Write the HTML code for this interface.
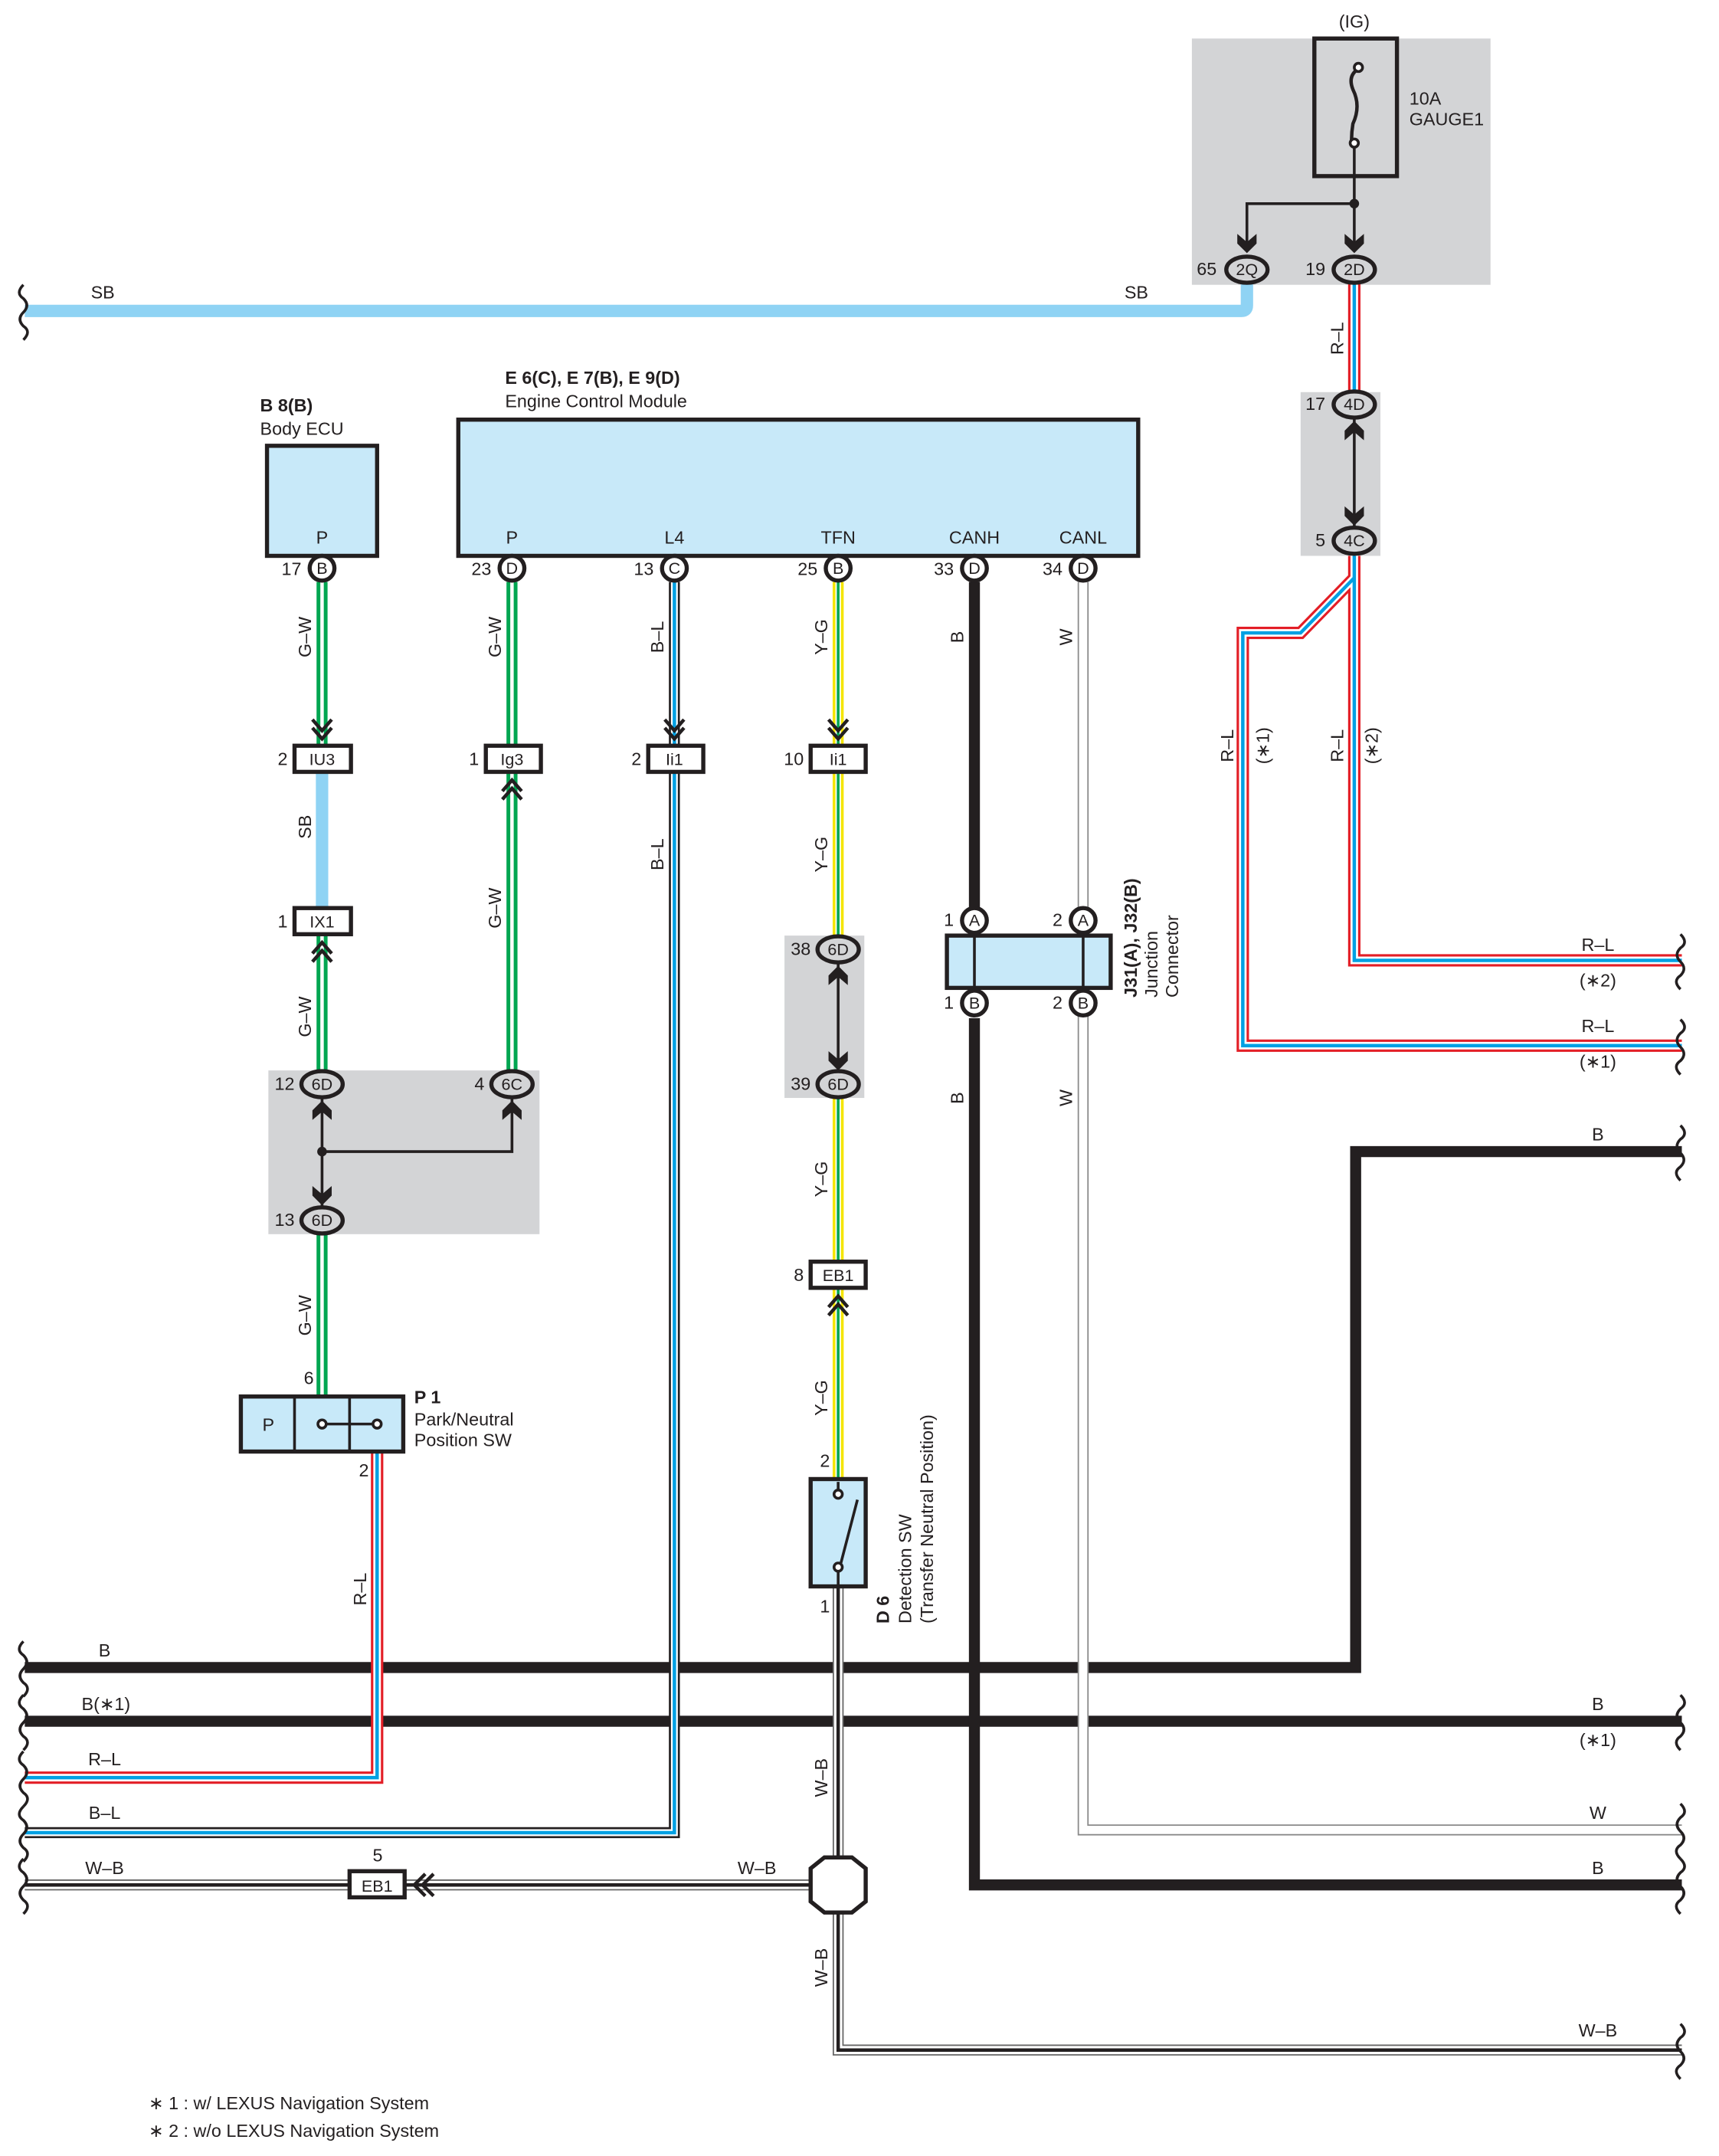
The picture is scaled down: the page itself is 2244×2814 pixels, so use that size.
<!DOCTYPE html>
<html><head><meta charset="utf-8"><style>
html,body{margin:0;padding:0;background:#fff}
svg{display:block}
text{font-family:"Liberation Sans",sans-serif;fill:#231f20}
</style></head><body>
<svg width="2244" height="2814" viewBox="0 0 1249 1567" preserveAspectRatio="none" xmlns="http://www.w3.org/2000/svg">
<defs>
<g id="dn"><path d="M-7,-11 L0,-3 L7,-11 M-7,-5 L0,3 L7,-5" fill="none" stroke="#231f20" stroke-width="2.5"/></g>
<g id="up"><path d="M-7,11 L0,3 L7,11 M-7,5 L0,-3 L7,5" fill="none" stroke="#231f20" stroke-width="2.5"/></g>
<g id="sdn"><path d="M-7,-8 L0,-2 L7,-8 L7,-1 L0,6 L-7,-1 Z" fill="#231f20"/></g>
<g id="sup"><path d="M-7,8 L0,2 L7,8 L7,1 L0,-6 L-7,1 Z" fill="#231f20"/></g>
</defs>
<g fill="none" stroke-linejoin="miter">
<rect x="866" y="28" width="217" height="179" fill="#d3d4d6" stroke="none"/>
<rect x="945" y="285" width="58" height="119" fill="#d3d4d6" stroke="none"/>
<rect x="195" y="778" width="197" height="119" fill="#d3d4d6" stroke="none"/>
<rect x="570" y="680" width="58" height="118" fill="#d3d4d6" stroke="none"/>

<path d="M18,226 H902 Q906,226 906,222 V205" stroke="#8fd3f4" stroke-width="9"/>
<path d="M18,1212 H985 V837 H1222" stroke="#231f20" stroke-width="8"/>
<path d="M18,1251 H1222" stroke="#231f20" stroke-width="8"/>
<path d="M708,423 V680 M708,740 V1370 H1222" stroke="#231f20" stroke-width="8"/>
<path d="M787,423 V1330 H1222" stroke="#8a8a8a" stroke-width="8"/>
<path d="M787,423 V1330 H1222" stroke="#fff" stroke-width="6"/>
<path d="M274,1055 V1292 H18" stroke="#e31e26" stroke-width="9"/>
<path d="M984,206 V285 M984,404 V698 H1222 M984,420 L945,460 H903 V760 H1222" stroke="#e31e26" stroke-width="9"/>
<path d="M274,1055 V1292 H18" stroke="#fff" stroke-width="5.5"/>
<path d="M984,206 V285 M984,404 V698 H1222 M984,420 L945,460 H903 V760 H1222" stroke="#fff" stroke-width="5.5"/>
<path d="M274,1055 V1292 H18" stroke="#00a0e3" stroke-width="2.5"/>
<path d="M984,206 V285 M984,404 V698 H1222 M984,420 L945,460 H903 V760 H1222" stroke="#00a0e3" stroke-width="2.5"/>
<path d="M490,423 V1332 H18" stroke="#231f20" stroke-width="8"/>
<path d="M490,423 V1332 H18" stroke="#fff" stroke-width="5"/>
<path d="M490,423 V1332 H18" stroke="#00a0e3" stroke-width="2.5"/>
<path d="M234,423 V542 M234,679 V778 M234,897 V1015 M372,423 V542 M372,561 V778" stroke="#00a651" stroke-width="8"/>
<path d="M234,423 V542 M234,679 V778 M234,897 V1015 M372,423 V542 M372,561 V778" stroke="#fff" stroke-width="2.5"/>
<path d="M234,561 V660" stroke="#8fd3f4" stroke-width="9"/>
<path d="M609,423 V680 M609,798 V1075" stroke="#f5e500" stroke-width="8"/>
<path d="M609,423 V680 M609,798 V1075" stroke="#fff" stroke-width="4"/>
<path d="M609,423 V680 M609,798 V1075" stroke="#00a651" stroke-width="2"/>
<path d="M609,1153 V1490 H1222 M609,1370 H18" stroke="#666" stroke-width="8"/>
<path d="M609,1153 V1490 H1222 M609,1370 H18" stroke="#fff" stroke-width="6"/>
<path d="M609,1153 V1490 H1222 M609,1370 H18" stroke="#231f20" stroke-width="2.5"/>

<g stroke="#231f20" stroke-width="2">
<path d="M17,207 q-6,6 0,10 q5,5 0,10 q-5,5 0,10 q6,4 0,10"/>
<path d="M17,1193 q-6,6 0,10 q5,5 0,10 q-5,5 0,10 q6,4 0,10"/>
<path d="M17,1232 q-6,6 0,10 q5,5 0,10 q-5,5 0,10 q6,4 0,10"/>
<path d="M17,1273 q-6,6 0,10 q5,5 0,10 q-5,5 0,10 q6,4 0,10"/>
<path d="M17,1313 q-6,6 0,10 q5,5 0,10 q-5,5 0,10 q6,4 0,10"/>
<path d="M17,1351 q-6,6 0,10 q5,5 0,10 q-5,5 0,10 q6,4 0,10"/>
<path d="M1221,679 q6,6 0,10 q-5,5 0,10 q5,5 0,10 q-6,4 0,10"/>
<path d="M1221,741 q6,6 0,10 q-5,5 0,10 q5,5 0,10 q-6,4 0,10"/>
<path d="M1221,818 q6,6 0,10 q-5,5 0,10 q5,5 0,10 q-6,4 0,10"/>
<path d="M1221,1232 q6,6 0,10 q-5,5 0,10 q5,5 0,10 q-6,4 0,10"/>
<path d="M1221,1311 q6,6 0,10 q-5,5 0,10 q5,5 0,10 q-6,4 0,10"/>
<path d="M1221,1351 q6,6 0,10 q-5,5 0,10 q5,5 0,10 q-6,4 0,10"/>
<path d="M1221,1471 q6,6 0,10 q-5,5 0,10 q5,5 0,10 q-6,4 0,10"/>
</g>

<rect x="955" y="28" width="60" height="100" stroke="#231f20" stroke-width="3"/>
<path d="M987,50 q-8,5 -4,15 q6,12 0,25 q-1,6 -1,12" stroke="#231f20" stroke-width="2.5"/>
<circle cx="987" cy="49" r="3" fill="#fff" stroke="#231f20" stroke-width="2"/>
<circle cx="984" cy="104" r="3" fill="#fff" stroke="#231f20" stroke-width="2"/>
<path d="M984,107 V182 M984,148 H906 V182 M984,304 V383 M234,798 V877 M234,837 H372 V798 M609,700 V778" stroke="#231f20" stroke-width="2"/>
<circle cx="984" cy="148" r="3.5" fill="#231f20"/>
<circle cx="234" cy="837" r="3.5" fill="#231f20"/>
<use href="#sdn" x="906" y="178"/><use href="#sdn" x="984" y="178"/>
<use href="#sup" x="984" y="312"/><use href="#sdn" x="984" y="376"/>
<use href="#sup" x="234" y="806"/><use href="#sdn" x="234" y="870"/><use href="#sup" x="372" y="806"/>
<use href="#sup" x="609" y="708"/><use href="#sdn" x="609" y="772"/>

<g stroke="#231f20" stroke-width="3" fill="#d3d4d6">
<ellipse cx="906" cy="196" rx="15" ry="9.5"/><ellipse cx="984" cy="196" rx="15" ry="9.5"/>
<ellipse cx="984" cy="294" rx="15" ry="9.5"/><ellipse cx="984" cy="393" rx="15" ry="9.5"/>
<ellipse cx="234" cy="788" rx="15" ry="9.5"/><ellipse cx="372" cy="788" rx="15" ry="9.5"/><ellipse cx="234" cy="887" rx="15" ry="9.5"/>
<ellipse cx="609" cy="690" rx="15" ry="9.5"/><ellipse cx="609" cy="788" rx="15" ry="9.5"/>
</g>
<rect x="194" y="324" width="80" height="80" fill="#c8e9f9" stroke="#231f20" stroke-width="3"/>
<rect x="333" y="305" width="494" height="99" fill="#c8e9f9" stroke="#231f20" stroke-width="3"/>
<rect x="688" y="680" width="119" height="38" fill="#c8e9f9" stroke="#231f20" stroke-width="3"/>
<path d="M708,680 V718 M787,680 V718" stroke="#231f20" stroke-width="2"/>
<rect x="175" y="1015" width="118" height="40" fill="#c8e9f9" stroke="#231f20" stroke-width="3"/>
<path d="M214,1015 V1055 M254,1015 V1055 M234,1035 H274" stroke="#231f20" stroke-width="2"/>
<circle cx="234" cy="1035" r="3" fill="#fff" stroke="#231f20" stroke-width="2"/>
<circle cx="274" cy="1035" r="3" fill="#fff" stroke="#231f20" stroke-width="2"/>
<rect x="589" y="1075" width="40" height="78" fill="#c8e9f9" stroke="#231f20" stroke-width="3"/>
<path d="M609,1077 V1083 M623,1090 L611,1136 M609,1142 V1153" stroke="#231f20" stroke-width="2"/>
<circle cx="609" cy="1086" r="3" fill="#fff" stroke="#231f20" stroke-width="2"/>
<circle cx="609" cy="1139" r="3" fill="#fff" stroke="#231f20" stroke-width="2"/>
<g stroke="#231f20" stroke-width="3" fill="#fff">
<circle cx="234" cy="413" r="9"/><circle cx="372" cy="413" r="9"/><circle cx="490" cy="413" r="9"/>
<circle cx="609" cy="413" r="9"/><circle cx="708" cy="413" r="9"/><circle cx="787" cy="413" r="9"/>
<circle cx="708" cy="669" r="9"/><circle cx="787" cy="669" r="9"/><circle cx="708" cy="729" r="9"/><circle cx="787" cy="729" r="9"/>
</g>
<g stroke="#231f20" stroke-width="3" fill="#fff">
<rect x="214" y="542" width="41" height="19"/><rect x="353" y="542" width="40" height="19"/>
<rect x="471" y="542" width="40" height="19"/><rect x="589" y="542" width="40" height="19"/>
<rect x="214" y="660" width="41" height="19"/><rect x="589" y="917" width="40" height="19"/>
<rect x="254" y="1360" width="40" height="19"/>
<path d="M589,1358 L599,1350 H619 L629,1358 V1382 L619,1390 H599 L589,1382 Z"/>
</g>
<use href="#dn" x="234" y="534"/><use href="#dn" x="490" y="534"/><use href="#dn" x="609" y="534"/>
<use href="#up" x="372" y="570"/><use href="#up" x="234" y="688"/><use href="#up" x="609" y="945"/>
<path d="M309,1362 L301,1370 L309,1378 M315,1362 L307,1370 L315,1378" stroke="#231f20" stroke-width="2.5"/>
</g>

<g font-size="13">
<text x="984" y="20" text-anchor="middle">(IG)</text>
<text x="1024" y="76">10A</text><text x="1024" y="91">GAUGE1</text>
<text x="906" y="200" text-anchor="middle" font-size="12">2Q</text><text x="984" y="200" text-anchor="middle" font-size="12">2D</text>
<text x="884" y="200" text-anchor="end">65</text><text x="963" y="200" text-anchor="end">19</text>
<text x="984" y="298" text-anchor="middle" font-size="12">4D</text><text x="984" y="397" text-anchor="middle" font-size="12">4C</text>
<text x="963" y="298" text-anchor="end">17</text><text x="963" y="397" text-anchor="end">5</text>
<text x="66" y="217">SB</text><text x="817" y="217">SB</text>
<text x="189" y="299" font-weight="bold">B 8(B)</text><text x="189" y="316">Body ECU</text>
<text x="367" y="279" font-weight="bold">E 6(C), E 7(B), E 9(D)</text><text x="367" y="296">Engine Control Module</text>
<text x="234" y="395" text-anchor="middle">P</text><text x="372" y="395" text-anchor="middle">P</text>
<text x="490" y="395" text-anchor="middle">L4</text><text x="609" y="395" text-anchor="middle">TFN</text>
<text x="708" y="395" text-anchor="middle">CANH</text><text x="787" y="395" text-anchor="middle">CANL</text>
<g font-size="12" text-anchor="middle">
<text x="234" y="417">B</text><text x="372" y="417">D</text><text x="490" y="417">C</text><text x="609" y="417">B</text><text x="708" y="417">D</text><text x="787" y="417">D</text>
<text x="708" y="673">A</text><text x="787" y="673">A</text><text x="708" y="733">B</text><text x="787" y="733">B</text>
<text x="234" y="556">IU3</text><text x="372" y="556">Ig3</text><text x="490" y="556">Ii1</text><text x="609" y="556">Ii1</text>
<text x="234" y="674">IX1</text><text x="609" y="931">EB1</text><text x="274" y="1375">EB1</text>
<text x="234" y="792">6D</text><text x="372" y="792">6C</text><text x="234" y="891">6D</text>
<text x="609" y="694">6D</text><text x="609" y="792">6D</text>
</g>
<g text-anchor="end">
<text x="219" y="418">17</text><text x="357" y="418">23</text><text x="475" y="418">13</text><text x="594" y="418">25</text><text x="693" y="418">33</text><text x="772" y="418">34</text>
<text x="209" y="556">2</text><text x="348" y="556">1</text><text x="466" y="556">2</text><text x="584" y="556">10</text>
<text x="209" y="674">1</text><text x="584" y="931">8</text>
<text x="214" y="792">12</text><text x="352" y="792">4</text><text x="214" y="891">13</text>
<text x="589" y="694">38</text><text x="589" y="792">39</text>
<text x="693" y="673">1</text><text x="772" y="673">2</text><text x="693" y="733">1</text><text x="772" y="733">2</text>
<text x="228" y="1006">6</text><text x="268" y="1073">2</text><text x="603" y="1066">2</text><text x="603" y="1172">1</text>
<text x="278" y="1353">5</text>
</g>
<text x="195" y="1040" text-anchor="middle">P</text>
<text x="301" y="1020" font-weight="bold">P 1</text><text x="301" y="1036">Park/Neutral</text><text x="301" y="1051">Position SW</text>
<g>
<text transform="translate(226,463) rotate(-90)" text-anchor="middle">G–W</text>
<text transform="translate(364,463) rotate(-90)" text-anchor="middle">G–W</text>
<text transform="translate(482,463) rotate(-90)" text-anchor="middle">B–L</text>
<text transform="translate(601,463) rotate(-90)" text-anchor="middle">Y–G</text>
<text transform="translate(700,463) rotate(-90)" text-anchor="middle">B</text>
<text transform="translate(779,463) rotate(-90)" text-anchor="middle">W</text>
<text transform="translate(226,601) rotate(-90)" text-anchor="middle">SB</text>
<text transform="translate(482,621) rotate(-90)" text-anchor="middle">B–L</text>
<text transform="translate(601,621) rotate(-90)" text-anchor="middle">Y–G</text>
<text transform="translate(364,660) rotate(-90)" text-anchor="middle">G–W</text>
<text transform="translate(226,739) rotate(-90)" text-anchor="middle">G–W</text>
<text transform="translate(700,798) rotate(-90)" text-anchor="middle">B</text>
<text transform="translate(779,798) rotate(-90)" text-anchor="middle">W</text>
<text transform="translate(601,857) rotate(-90)" text-anchor="middle">Y–G</text>
<text transform="translate(226,956) rotate(-90)" text-anchor="middle">G–W</text>
<text transform="translate(601,1016) rotate(-90)" text-anchor="middle">Y–G</text>
<text transform="translate(266,1155) rotate(-90)" text-anchor="middle">R–L</text>
<text transform="translate(601,1292) rotate(-90)" text-anchor="middle">W–B</text>
<text transform="translate(601,1430) rotate(-90)" text-anchor="middle">W–B</text>
<text transform="translate(976,246) rotate(-90)" text-anchor="middle">R–L</text>
<text transform="translate(896,542) rotate(-90)" text-anchor="middle">R–L</text>
<text transform="translate(976,542) rotate(-90)" text-anchor="middle">R–L</text>
<text transform="translate(922,542) rotate(-90)" text-anchor="middle">(∗1)</text>
<text transform="translate(1001,542) rotate(-90)" text-anchor="middle">(∗2)</text>
<text transform="translate(826,725) rotate(-90)" font-weight="bold">J31(A), J32(B)</text>
<text transform="translate(841,725) rotate(-90)">Junction</text>
<text transform="translate(856,725) rotate(-90)">Connector</text>
<text transform="translate(646,1180) rotate(-90)" font-weight="bold">D 6</text>
<text transform="translate(662,1180) rotate(-90)">Detection SW</text>
<text transform="translate(678,1180) rotate(-90)">(Transfer Neutral Position)</text>
</g>
<g text-anchor="middle">
<text x="1161" y="691">R–L</text><text x="1161" y="717">(∗2)</text>
<text x="1161" y="750">R–L</text><text x="1161" y="776">(∗1)</text>
<text x="1161" y="829">B</text><text x="1161" y="1243">B</text><text x="1161" y="1269">(∗1)</text>
<text x="1161" y="1322">W</text><text x="1161" y="1362">B</text><text x="1161" y="1480">W–B</text>
<text x="76" y="1204">B</text><text x="77" y="1243">B(∗1)</text><text x="76" y="1283">R–L</text>
<text x="76" y="1322">B–L</text><text x="76" y="1362">W–B</text><text x="550" y="1362">W–B</text>
</g>
<text x="108" y="1533">∗ 1 : w/ LEXUS Navigation System</text>
<text x="108" y="1553">∗ 2 : w/o LEXUS Navigation System</text>
</g>
</svg>
</body></html>
